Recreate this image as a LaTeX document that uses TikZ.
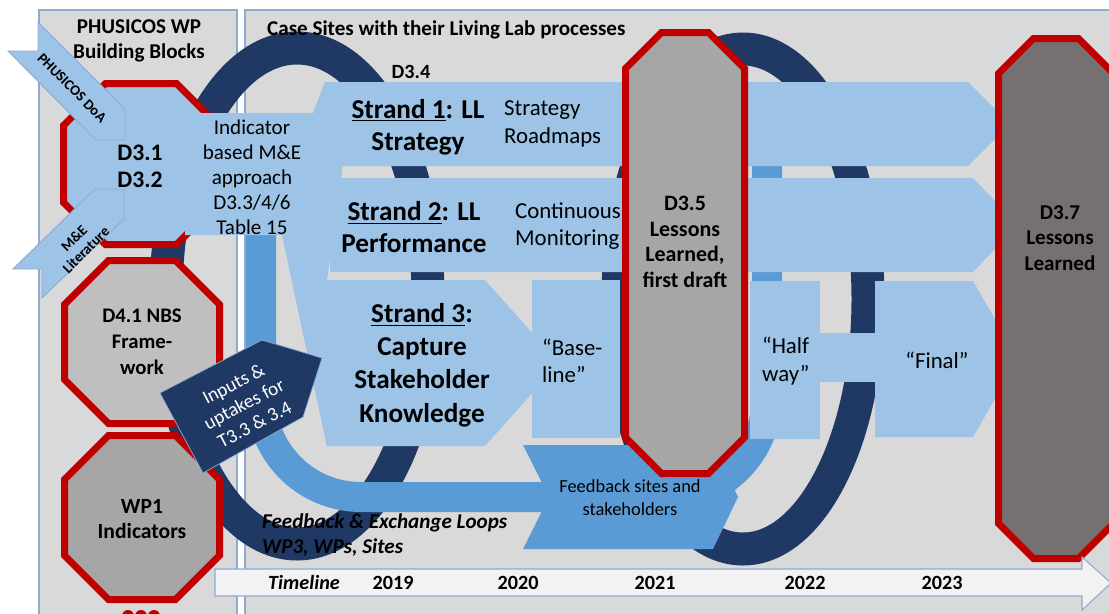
\documentclass[tikz,border=0pt]{standalone}
\usepackage{fontspec}
\setmainfont{Carlito}
\usepackage{tikz}
\usepackage{xcolor}

\definecolor{panelgray}{HTML}{D9D9D9}
\definecolor{panelline}{HTML}{8FAAD0}
\definecolor{navy}{HTML}{203864}
\definecolor{midblue}{HTML}{5B9BD5}
\definecolor{lightblue}{HTML}{9DC3E6}
\definecolor{darkred}{HTML}{C00000}
\definecolor{octgray}{HTML}{A6A6A6}
\definecolor{octlight}{HTML}{BFBFBF}
\definecolor{octdark}{HTML}{767171}
\definecolor{timefill}{HTML}{F2F2F2}

\tikzset{
    panel/.style = {fill=panelgray, draw=panelline, line width=0.6pt},
    loop-ring/.style = {draw=navy, line width=0.66cm},
    feedback-band/.style = {draw=midblue, line width=0.6cm, rounded corners=2cm},
    flow/.style = {fill=lightblue},
    octo/.style = {draw=darkred, line width=0.14cm, line join=miter},
    chev/.style = {fill=lightblue, draw=panelline, line width=0.5pt},
    hdr/.style = {font=\bfseries\fontsize{12}{14.5}\selectfont, align=center},
    oct-text/.style = {font=\bfseries\fontsize{12}{14.7}\selectfont, align=center},
    strand-title/.style = {font=\bfseries\fontsize{15.5}{18.5}\selectfont, align=center},
    strand-note/.style = {font=\fontsize{13}{15.5}\selectfont, align=left},
    tag/.style = {font=\bfseries\fontsize{8.3}{9.5}\selectfont, align=center},
    year/.style = {font=\bfseries\fontsize{11.5}{14}\selectfont},
}

% octagon with chamfered corners: [style] left, top, right, bottom, chamfer
\newcommand\octagon[6][]{%
    \draw[#1] (#2,#3+#6) -- (#2+#6,#3) -- (#4-#6,#3) -- (#4,#3+#6)
        -- (#4,#5-#6) -- (#4-#6,#5) -- (#2+#6,#5) -- (#2,#5-#6) -- cycle;}

\begin{document}
\begin{tikzpicture}[x=0.02cm, y=-0.02cm]
\useasboundingbox (0,0) rectangle (1109,613);

% two panels
\draw[panel] (39,10) rectangle (237,640);
\draw[panel] (245,10) rectangle (1130,640);

% navy loops
\draw[loop-ring] (297,296) ellipse [x radius=131, y radius=248];
\draw[loop-ring] (743,299) ellipse [x radius=125, y radius=250];

% feedback band
\draw[feedback-band] (261,140) -- (261,497) -- (767,497) -- (767,140);

% strands
\fill[flow] (325,82) -- (968,82) -- (1010,124) -- (968,166) -- (325,166) -- cycle;
\fill[flow] (330,178) -- (973,178) -- (1018,225) -- (973,272) -- (330,272) -- cycle;
\fill[flow] (327,280) -- (485,280) -- (559,363) -- (485,446) -- (327,446) -- cycle;
\fill[flow] (532,280) rectangle (620,438);
\fill[flow] (750,281) rectangle (820,439);
\fill[flow] (820,333) rectangle (875,382);
\fill[flow] (875,281) -- (973,281) -- (1018,359) -- (973,437) -- (875,437) -- cycle;

% feedback arrow
\fill[midblue] (523,445) -- (713,445) -- (738,497) -- (713,549) -- (523,549) -- (549,497) -- cycle;

% building blocks
\octagon[octo, fill=lightblue]{63.5}{83.5}{218.5}{244.5}{42}
\octagon[octo, fill=octlight]{64.5}{260.5}{219.5}{423.5}{44}
\octagon[octo, fill=octgray]{64.5}{435.5}{219.5}{599.5}{44}
\fill[darkred] (128,616) circle [radius=6] (141,616) circle [radius=6] (154,616) circle [radius=6];

% lessons learned
\octagon[octo, fill=octgray]{625.5}{32.5}{744.5}{473.5}{36}
\octagon[octo, fill=octdark]{998.5}{38.5}{1113.5}{558.5}{35}

% indicator box and fan
\fill[flow] (185,113) -- (313,113) -- (325,82) -- (350,82) -- (342,172) -- (327,280)
    -- (327,447) -- (282,235) -- (185,235) -- cycle;

% inputs
\draw[fill=navy, draw=panelline, line width=0.4pt] (160,393) -- (262,340) -- (322,358) -- (303,417) -- (203,473) -- cycle;

% chevrons into D3.1
\draw[chev] (38,22) -- (125,109) -- (125,140) -- (96,140) -- (8,51) -- (38,51) -- cycle;
\draw[chev] (13,269) -- (95,189) -- (124,189) -- (124,219) -- (42,298) -- (42,269) -- cycle;

% timeline
\draw[fill=timefill, draw=panelline, line width=0.6pt] (215,569) -- (1082,569) -- (1082,557) -- (1111,583)
    -- (1082,610) -- (1082,596) -- (215,596) -- cycle;

% texts
\node[hdr] (wp-title) at (139,41) {PHUSICOS WP\\Building Blocks};
\node[hdr, anchor=west] (site-title) at (261,30) {Case Sites with their Living Lab processes};
\node[tag, rotate=-45] (doa) at (72,88) {PHUSICOS DoA};
\node[tag, rotate=45] (lit) at (80,244) {M\&E\\Literature};
\node[oct-text, font=\bfseries\fontsize{13.5}{15.3}\selectfont] (d31) at (140,166) {D3.1\\D3.2};
\node[font=\fontsize{12}{14.2}\selectfont, align=center] (indicator) at (252,177)
    {Indicator\\based M\&E\\approach\\D3.3/4/6\\Table 15};
\node[oct-text, font=\bfseries\fontsize{11.8}{14.7}\selectfont] (d41) at (142,342) {D4.1 NBS\\Frame-\\work};
\node[oct-text, font=\bfseries\fontsize{12.3}{14.2}\selectfont] (wp1) at (142,519) {WP1\\Indicators};
\node[hdr, font=\bfseries\fontsize{11.5}{14}\selectfont] (d34) at (411,72) {D3.4};
\node[strand-title] (s1) at (418,127) {\underline{Strand 1}: LL\\Strategy};
\node[strand-note, anchor=west] (s1-note) at (498,124) {Strategy\\Roadmaps};
\node[strand-title] (s2) at (414,227) {\underline{Strand 2}: LL\\Performance};
\node[strand-note, anchor=west] (s2-note) at (509,226) {Continuous\\Monitoring};
\node[strand-title, font=\bfseries\fontsize{15.5}{18.9}\selectfont] (s3) at (422,365)
    {\underline{Strand 3}:\\Capture\\Stakeholder\\Knowledge};
\node[strand-note, anchor=west] (baseline) at (536,361) {“Base-\\line”};
\node[oct-text, font=\bfseries\fontsize{12.5}{14.6}\selectfont] (d35) at (685,242) {D3.5\\Lessons\\Learned,\\first draft};
\node[strand-note, anchor=west] (halfway) at (756,361) {“Half\\way”};
\node[strand-note] (final) at (937,360) {“Final”};
\node[oct-text] (d37) at (1060,238) {D3.7\\Lessons\\Learned};
\node[font=\fontsize{10.5}{13}\selectfont, align=center] (fb-sites) at (630,498) {Feedback sites and\\stakeholders};
\node[text=white, font=\fontsize{11}{13}\selectfont, align=center, rotate=27.5] (inputs) at (244,404)
    {Inputs \&\\uptakes for\\T3.3 \& 3.4};
\node[font=\bfseries\itshape\fontsize{12}{14.2}\selectfont, align=left, anchor=west] (loops) at (256,535)
    {Feedback \& Exchange Loops\\WP3, WPs, Sites};

\node[year, font=\bfseries\itshape\fontsize{11.5}{14}\selectfont] (timeline) at (304,582) {Timeline};
\foreach \yr/\px in {2019/393, 2020/518, 2021/655, 2022/805, 2023/942}
    \node[year] (y\yr) at (\px,583) {\yr};
\end{tikzpicture}
\end{document}
